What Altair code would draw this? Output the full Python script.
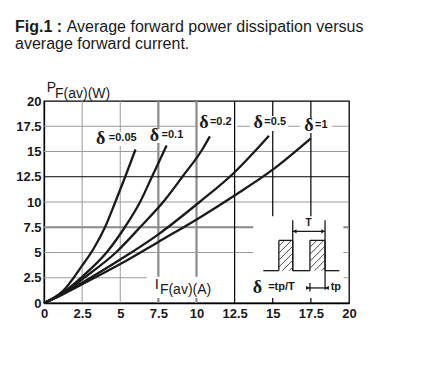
import altair as alt
import pandas as pd
import numpy as np

# ---------------- data ----------------
DELTAS = ["0.05", "0.1", "0.2", "0.5", "1"]
I_005 = [0, 1.25, 2.5, 3.22, 4.0, 4.65, 5.3, 6.0]
P_005 = [0, 1.2, 3.7, 5.3, 7.5, 9.9, 12.4, 15.2]
I_01 = [0, 1.25, 2.5, 4.1, 5.3, 6.3, 7.05, 8.04]
P_01 = [0, 1.05, 2.6, 5.0, 7.5, 10.0, 12.4, 15.6]
I_02 = [0, 1.25, 2.5, 4.75, 6.3, 7.95, 9.1, 10.38, 10.88]
P_02 = [0, 0.95, 2.35, 5.05, 7.5, 10.25, 12.55, 15.2, 16.5]
I_05 = [0, 1.25, 2.5, 5.0, 7.5, 10.2, 12.5, 13.75, 14.75]
P_05 = [0, 0.9, 2.0, 4.3, 6.8, 10.0, 12.95, 14.9, 16.55]
I_1 = [0, 1.25, 2.5, 5.0, 7.5, 10.2, 12.5, 15.0, 17.5]
P_1 = [0, 0.88, 1.85, 3.85, 6.05, 8.45, 10.65, 13.2, 16.3]

TICKS = [0, 2.5, 5, 7.5, 10, 12.5, 15, 17.5, 20]
GRID_X_THIN = [2.5, 5]
GRID_X_THICK = [7.5, 10]
GRID_X_BLACK = [15, 17.5]
GRID_X_FULL = [12.5]
GRID_Y_THIN = [2.5, 5, 10, 15, 17.5]
GRID_Y_THICK = [7.5]
GRID_Y_BLACK = [12.5]

# label annotations (delta values at curve ends)
LAB_DX = [3.71, 7.24, 10.49, 14.05, 17.38]
LAB_DY = [16.2, 16.55, 17.8, 17.8, 17.55]
LAB_TX = [4.25, 7.71, 10.88, 14.45, 17.77]

FONT = "Liberation Sans"
SERIF = "Liberation Serif"
INK = "#1a1a1a"

xs = alt.Scale(domain=[0, 20], nice=False, zero=False)
ys = alt.Scale(domain=[0, 20], nice=False, zero=False)

axis_common = dict(values=TICKS, format=".1~f", labelFont=FONT, labelFontSize=13,
                   labelFontWeight="bold", labelColor=INK, tickSize=0, domainColor="black",
                   domainWidth=1.3, grid=False, title=None, labelFlush=False)
AX = alt.Axis(labelPadding=4, **axis_common)
AY = alt.Axis(labelPadding=3, **axis_common)

def X(f):
    return alt.X(f, scale=xs, axis=AX, title=None)

def Y(f):
    return alt.Y(f, scale=ys, axis=AY, title=None)

series = [I_005, I_01, I_02, I_05, I_1]
pseries = [P_005, P_01, P_02, P_05, P_1]
curves = pd.concat(
    [pd.DataFrame({"I": i, "P": p, "d": d, "o": range(len(i))})
     for i, p, d in zip(series, pseries, DELTAS)], ignore_index=True)

def vrules(vals, color, w):
    return alt.Chart(pd.DataFrame({"v": vals})).mark_rule(color=color, strokeWidth=w).encode(
        x=X("v:Q"))

def hrules(vals, color, w):
    return alt.Chart(pd.DataFrame({"v": vals})).mark_rule(color=color, strokeWidth=w).encode(
        y=Y("v:Q"))

def boxes(df):
    return alt.Chart(df).mark_rect(color="white").encode(
        x=X("x0:Q"), x2="x1:Q", y=Y("y0:Q"), y2="y1:Q")

def segs(df, w=1.4, color=INK):
    return alt.Chart(df).mark_rule(color=color, strokeWidth=w).encode(
        x=X("x0:Q"), x2="x1:Q", y=Y("y0:Q"), y2="y1:Q")

def dtext(df, size, weight="normal", font=FONT, align="left", baseline="middle"):
    return alt.Chart(df).mark_text(font=font, fontSize=size, fontWeight=weight, align=align,
                                   baseline=baseline, color=INK).encode(
        x=X("x:Q"), y=Y("y:Q"), text="t:N")

def ptext(t, px, py, size, weight="normal", font=FONT):
    return alt.Chart(pd.DataFrame({"t": [t]})).mark_text(
        font=font, fontSize=size, fontWeight=weight, align="left", baseline="alphabetic",
        color=INK).encode(x=alt.value(px), y=alt.value(py), text="t:N")

lines = alt.Chart(curves).mark_line(color=INK, strokeWidth=2.3, interpolate="monotone").encode(
    x=X("I:Q"), y=Y("P:Q"), detail="d:N", order="o:Q")

# white masks behind labels / inset
mask = pd.DataFrame({
    "x0": [3.57, 6.82, 10.1, 13.5, 16.79, 6.73, 13.72],
    "x1": [6.16, 9.18, 12.66, 16.0, 18.89, 19.63, 19.63],
    "y0": [15.54, 15.84, 17.03, 17.03, 16.83, 0.5, 0.5],
    "y1": [16.93, 17.23, 18.51, 18.51, 18.32, 2.6, 8.6]})

# inset pulse diagram
pulse = pd.DataFrame({
    "x0": [14.38, 15.4, 15.4, 16.31, 16.31, 17.44, 17.44, 18.43, 18.43, 16.31, 18.43, 17.44, 16.31, 17.23],
    "x1": [15.4, 15.4, 16.31, 16.31, 17.44, 17.44, 18.43, 18.43, 19.37, 16.31, 18.43, 17.44, 18.43, 18.65],
    "y0": [3.2, 3.2, 6.2, 6.2, 3.2, 3.2, 6.2, 6.2, 3.2, 8.19, 8.19, 1.15, 7.1, 1.49],
    "y1": [3.2, 6.2, 6.2, 3.2, 3.2, 6.2, 6.2, 3.2, 3.2, 3.2, 1.32, 1.98, 7.1, 1.49]})

def hatch(x0, x1, y0, y1, step=7.0, sx=15.25, sy=10.1):
    X0, X1, Y0, Y1 = x0 * sx, x1 * sx, y0 * sy, y1 * sy
    out = []
    for c in np.arange(Y0 - X1 + step / 2, Y1 - X0, step):
        xa = max(X0, Y0 - c)
        xb = min(X1, Y1 - c)
        if xb > xa:
            out.append((xa / sx, xb / sx, (xa + c) / sy, (xb + c) / sy))
    return out

h = hatch(15.4, 16.31, 3.2, 6.2) + hatch(17.44, 18.43, 3.2, 6.2)
hatch_df = pd.DataFrame(h, columns=["x0", "x1", "y0", "y1"])

arrows = pd.DataFrame({"x": [16.31, 18.43, 17.44, 18.43], "y": [7.1, 7.1, 1.49, 1.49],
                       "s": ["triangle-left", "triangle-right", "triangle-right", "triangle-left"],
                       "off": [2, -2, -2, 2]})
arrow_layers = []
for _, r in arrows.iterrows():
    arrow_layers.append(alt.Chart(pd.DataFrame({"x": [r.x], "y": [r.y]})).mark_point(
        shape=r.s, filled=True, size=18, color=INK, opacity=1, xOffset=r.off).encode(
        x=X("x:Q"), y=Y("y:Q")))

dlab = pd.DataFrame({"x": LAB_DX, "y": LAB_DY, "t": ["δ"] * 5})
vlab = pd.DataFrame({"x": LAB_TX, "y": [v + 0.1 for v in LAB_DY], "t": ["=" + d for d in DELTAS]})

inset_d = pd.DataFrame({"x": [14.0], "y": [1.49], "t": ["δ"]})
inset_t = pd.DataFrame({"x": [14.7, 18.8], "y": [1.55, 1.55], "t": ["=tp/T", "tp"]})
t_lab = pd.DataFrame({"x": [17.35], "y": [7.95], "t": ["T"]})
i_lab = pd.DataFrame({"x": [7.27], "y": [1.37], "t": ["I"]})
i_sub = pd.DataFrame({"x": [7.6], "y": [0.92], "t": ["F(av)(A)"]})

layers = [
    lines.mark_line(opacity=0),
    vrules(GRID_X_THIN, "#9a9a9a", 1), vrules(GRID_X_THICK, "#8a8a8a", 2.2),
    hrules(GRID_Y_THIN, "#9a9a9a", 1), hrules(GRID_Y_THICK, "#8a8a8a", 2.2),
    vrules(GRID_X_BLACK, "black", 1.2), hrules(GRID_Y_BLACK, "black", 1.2),
    boxes(mask),
    vrules(GRID_X_FULL, "black", 1.2),
    lines,
    segs(pulse, 1.3), segs(hatch_df, 0.9, "#333333"),
    *arrow_layers,
    dtext(dlab, 18, "bold", SERIF, "center"),
    dtext(vlab, 11, "bold"),
    dtext(inset_d, 18, "bold", SERIF, "center"),
    dtext(inset_t, 11, "bold"),
    dtext(t_lab, 10, "bold", align="center"),
    dtext(i_lab, 15, baseline="alphabetic"),
    dtext(i_sub, 14, baseline="alphabetic"),
    ptext("Fig.1 :", -29, -69, 16, "bold"),
    ptext("Average forward power dissipation versus", 22.7, -69, 16),
    ptext("average forward current.", -29, -52, 16),
    ptext("P", 2.7, -9.5, 14),
    ptext("F(av)(W)", 11, -3.5, 14),
]

chart = alt.layer(*layers).properties(
    width=305, height=202, autosize="none",
    padding={"left": 36, "top": 93, "right": 75, "bottom": 68},
    background="white",
).configure_view(stroke="black", strokeWidth=1.3)

chart.save("out.html", embed_options={"renderer": "svg", "actions": False})
